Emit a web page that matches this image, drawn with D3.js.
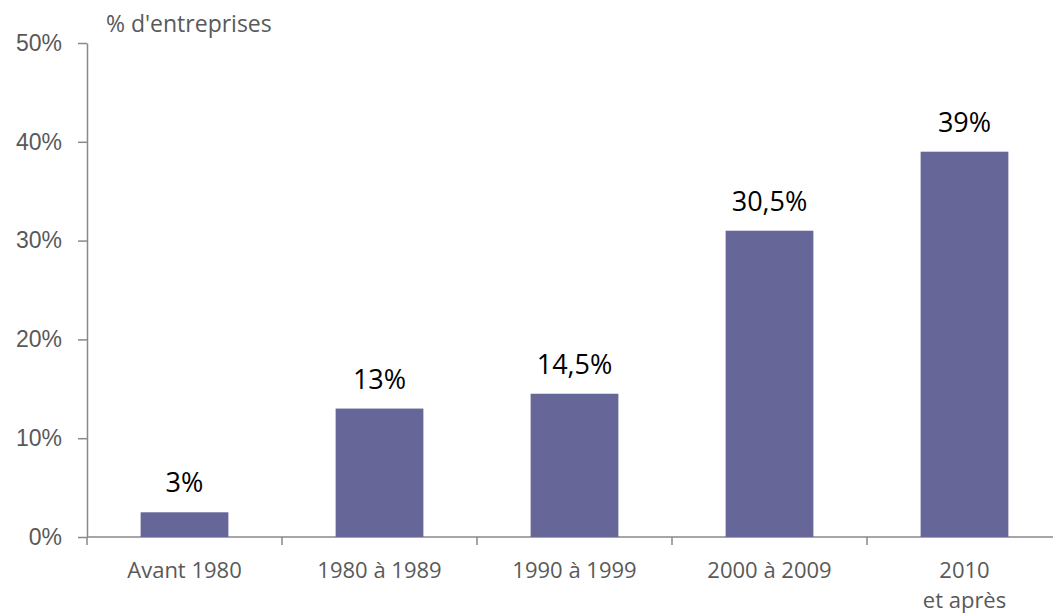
<!DOCTYPE html>
<html>
<head>
<meta charset="utf-8">
<script src="https://cdn.jsdelivr.net/npm/d3@7"></script>
<style>
  html, body { margin: 0; padding: 0; background: #fff; }
  svg { display: block; font-family: "Open Sans", "Liberation Sans", sans-serif; }
</style>
</head>
<body>
<svg id="chart" width="1053" height="615"></svg>
<script>
const categories = ["Avant 1980", "1980 à 1989", "1990 à 1999", "2000 à 2009", "2010\net après"];
const values = [2.5, 13, 14.5, 31, 39];
const valueLabels = ["3%", "13%", "14,5%", "30,5%", "39%"];
const yTicks = [0, 10, 20, 30, 40, 50];
const yTitle = "% d'entreprises";

const svg = d3.select("#chart");
const axisColor = "#898989";
const textColor = "#595959";

const x = d3.scaleBand().domain(categories).range([87, 1062]).paddingInner(0.55).paddingOuter(0.275);
const y = d3.scaleLinear().domain([0, 50]).range([537, 43]);

// Y axis
const yAxis = svg.append("g").attr("transform", "translate(87,0)")
  .call(d3.axisLeft(y).tickValues(yTicks).tickFormat(d => d + "%").tickSize(9).tickSizeOuter(0).tickPadding(16));
yAxis.select(".domain").attr("stroke", axisColor).attr("stroke-width", 1.5);
yAxis.selectAll(".tick line").attr("stroke", axisColor).attr("stroke-width", 1.5);
yAxis.selectAll(".tick text").attr("fill", textColor).style("font-size", "23px").attr("font-family", null);

// X axis line and ticks at band boundaries
const xAxisG = svg.append("g");
xAxisG.append("line").attr("x1", 87).attr("x2", 1062).attr("y1", y(0)).attr("y2", y(0))
  .attr("stroke", axisColor).attr("stroke-width", 1.5);
const boundaryPositions = d3.range(categories.length + 1).map(i => x.range()[0] + i * x.step());
xAxisG.selectAll("line.xt").data(boundaryPositions).enter().append("line")
  .attr("class", "xt")
  .attr("x1", d => d).attr("x2", d => d)
  .attr("y1", y(0)).attr("y2", y(0) + 8)
  .attr("stroke", axisColor).attr("stroke-width", 1.5);

// X labels (one text element per line)
categories.forEach(c => {
  c.split("\n").forEach((ln, i) => {
    xAxisG.append("text")
      .attr("x", x(c) + x.bandwidth() / 2)
      .attr("y", y(0) + 41 + i * 30)
      .attr("text-anchor", "middle")
      .attr("fill", textColor)
      .style("font-size", "22px")
      .text(ln);
  });
});

// Bars
svg.append("g").selectAll("rect").data(values).enter().append("rect")
  .attr("x", (d, i) => x(categories[i]))
  .attr("y", d => y(d))
  .attr("width", x.bandwidth())
  .attr("height", d => y(0) - y(d))
  .attr("fill", "#666699");

// Value labels
svg.append("g").selectAll("text").data(values).enter().append("text")
  .attr("x", (d, i) => x(categories[i]) + x.bandwidth() / 2)
  .attr("y", d => y(d) - 20)
  .attr("text-anchor", "middle")
  .attr("fill", "#000")
  .style("font-size", "27px")
  .text((d, i) => valueLabels[i]);

// Axis title
svg.append("text")
  .attr("x", 106).attr("y", 32)
  .attr("fill", textColor)
  .style("font-size", "23px")
  .text(yTitle);
</script>
</body>
</html>
